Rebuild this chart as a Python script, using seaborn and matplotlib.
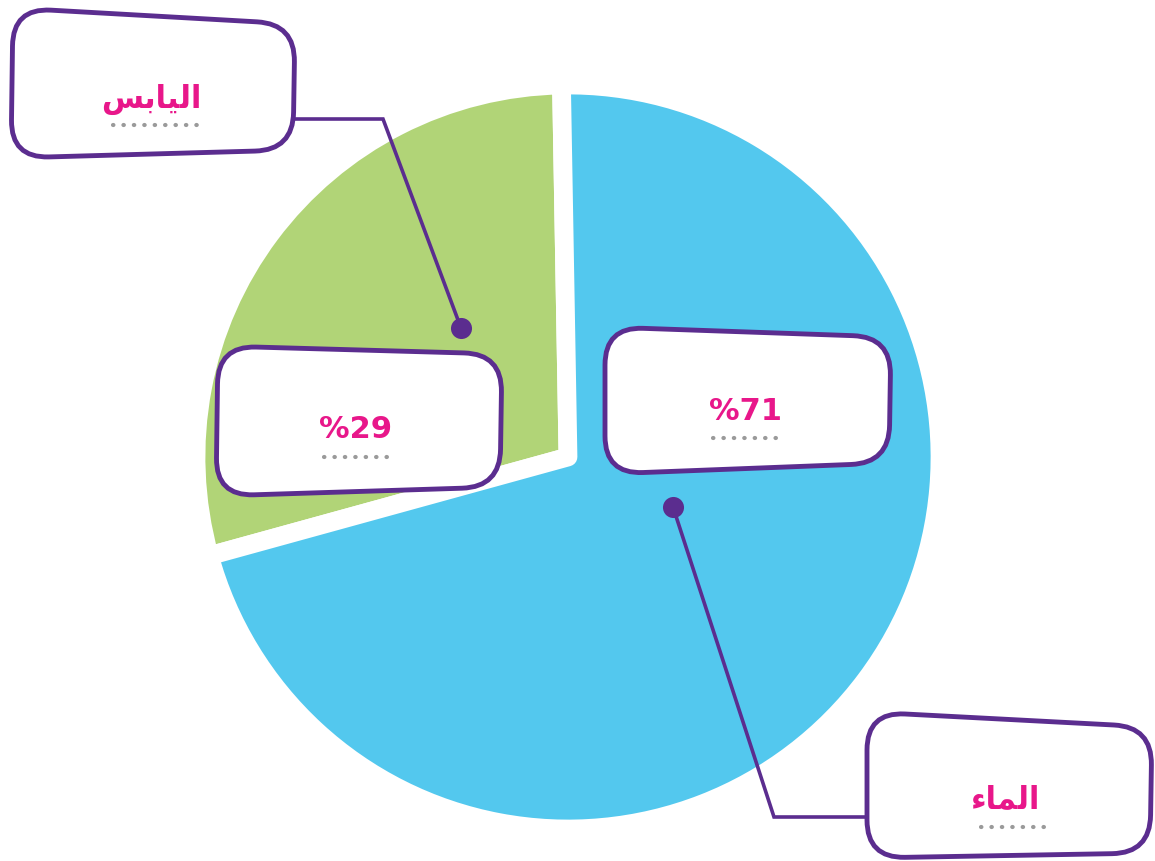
import numpy as np
import matplotlib
matplotlib.use("Agg")
import matplotlib.pyplot as plt
import seaborn as sns
from matplotlib.path import Path
from matplotlib.patches import PathPatch

# ---------------- data ----------------
categories = ["اليابس", "الماء"]          # land, water
values = [29, 71]                          # percent
pct_labels = ["%29", "%71"]
slice_colors = ["#B1D477", "#53C8EE"]

PURPLE = "#5B2D8F"
PINK = "#E8178A"
DOTS = "#9A9A9A"

sns.set_theme(style="white")
plt.rcParams["font.family"] = ["DejaVu Sans"]

W, H = 1155, 861
fig = plt.figure(figsize=(W / 100, H / 100), dpi=100)
ax = fig.add_axes([0, 0, 1, 1])


def Y(y):
    return H - y


# ---------- minimal Arabic shaping (presentation forms, visual order) ----------
FORMS = {  # isolated, final, initial, medial
    "ا": ("\uFE8D", "\uFE8E", None, None),
    "ل": ("\uFEDD", "\uFEDE", "\uFEDF", "\uFEE0"),
    "ي": ("\uFEF1", "\uFEF2", "\uFEF3", "\uFEF4"),
    "ب": ("\uFE8F", "\uFE90", "\uFE91", "\uFE92"),
    "س": ("\uFEB1", "\uFEB2", "\uFEB3", "\uFEB4"),
    "م": ("\uFEE1", "\uFEE2", "\uFEE3", "\uFEE4"),
    "ء": ("\uFE80", None, None, None),
}


def dual(c):
    f = FORMS.get(c)
    return f is not None and f[2] is not None


def joins_prev(c):
    f = FORMS.get(c)
    return f is not None and f[1] is not None


def shape(s):
    out = []
    for i, c in enumerate(s):
        if c not in FORMS:
            out.append(c)
            continue
        p = i > 0 and dual(s[i - 1]) and joins_prev(c)
        n = i < len(s) - 1 and dual(c) and joins_prev(s[i + 1])
        iso, fin, ini, med = FORMS[c]
        if p and n:
            out.append(med)
        elif p:
            out.append(fin)
        elif n:
            out.append(ini)
        else:
            out.append(iso)
    return "".join(reversed(out))


# ---------------- pie ----------------
ax.pie(values, colors=sns.color_palette(slice_colors), startangle=91,
       counterclock=True, center=(568, Y(457)), radius=372,
       wedgeprops=dict(edgecolor="white", linewidth=13.5, joinstyle="round"))
ax.set_xlim(0, W)
ax.set_ylim(0, H)
ax.set_aspect("equal")
ax.axis("off")


# ---------------- rounded boxes ----------------
def rounded_quad(corners, r):
    pts = [np.array([x, Y(y)], float) for x, y in corners]
    verts, codes = [], []
    n = len(pts)
    for i in range(n):
        P = pts[i]
        Pp = pts[i - 1]
        Pn = pts[(i + 1) % n]
        a = P + r * (Pp - P) / np.linalg.norm(Pp - P)
        b = P + r * (Pn - P) / np.linalg.norm(Pn - P)
        verts.append(a)
        codes.append(Path.MOVETO if i == 0 else Path.LINETO)
        verts += [P, b]
        codes += [Path.CURVE3, Path.CURVE3]
    verts.append(verts[0])
    codes.append(Path.CLOSEPOLY)
    return Path(verts, codes)


boxes = [
    [(13, 8), (295, 24), (293, 150), (11, 158)],       # اليابس
    [(218, 346), (502, 354), (500, 487), (216, 496)],   # %29
    [(605, 327), (891, 337), (889, 463), (605, 474)],   # %71
    [(867, 712), (1152, 727), (1150, 853), (867, 858)], # الماء
]

# connectors (below boxes)
ax.plot([295, 383, 461], [Y(119), Y(119), Y(328)], color=PURPLE, lw=2.6,
        solid_joinstyle="miter", zorder=3)
ax.plot([673, 774, 868], [Y(507), Y(817), Y(817)], color=PURPLE, lw=2.6,
        solid_joinstyle="miter", zorder=3)
ax.scatter([461, 673], [Y(328), Y(507)], s=230, color=PURPLE, zorder=4,
           linewidths=0)

for corners in boxes:
    ax.add_patch(PathPatch(rounded_quad(corners, 38), facecolor="white",
                           edgecolor=PURPLE, lw=3.5, zorder=5))

# texts
texts = [
    (shape(categories[0]), 151, 99, (113, 205, 125)),
    (pct_labels[0], 356, 430, (324, 390, 457)),
    (pct_labels[1], 745, 411, (713, 779, 438)),
    (shape(categories[1]), 1005, 800, (981, 1047, 827)),
]
for s, x, y, (d0, d1, dy) in texts:
    ax.text(x, Y(y), s, ha="center", va="center", fontsize=22,
            fontweight="bold", color=PINK, zorder=6)
    ax.plot([d0, d1], [Y(dy), Y(dy)], color=DOTS, lw=3.0,
            linestyle=(0, (0.1, 2.4)), dash_capstyle="round", zorder=6)

fig.savefig("out.png", dpi=100, facecolor="white")
